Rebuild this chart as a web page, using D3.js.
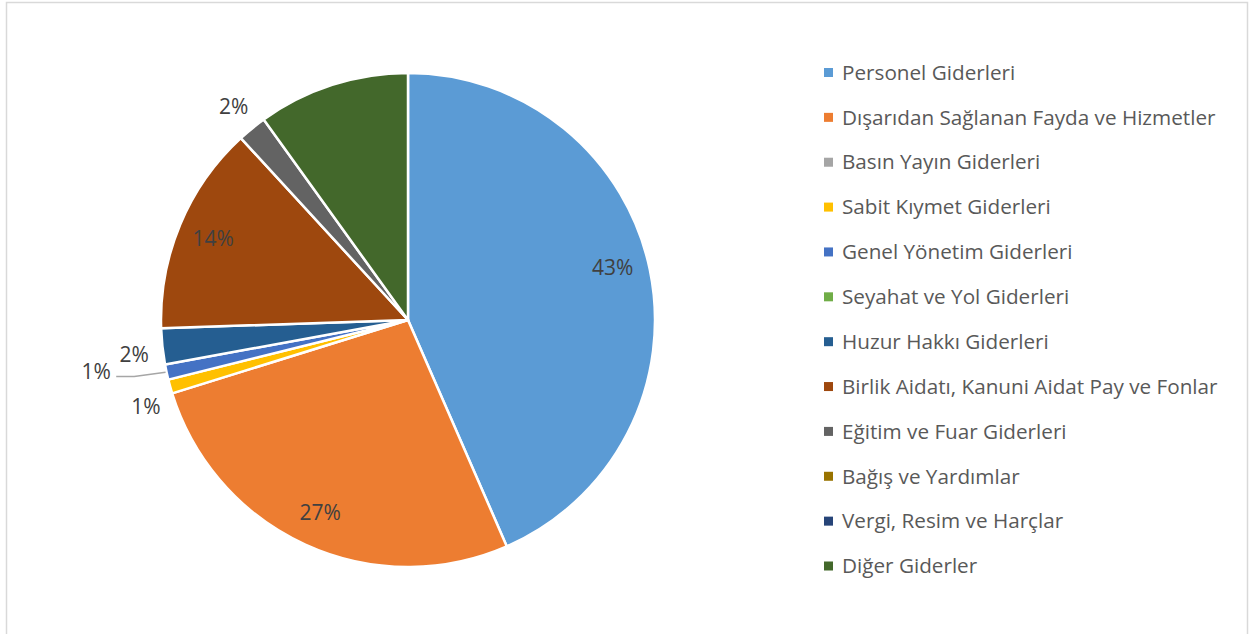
<!DOCTYPE html>
<html>
<meta charset='utf-8'>
<head>
<title>Giderler</title>
<script src='https://d3js.org/d3.v7.min.js'></script>
<style>
body { margin: 0; background: #fff; }
text { font-family: 'Open Sans', sans-serif; }
</style>
</head>
<body>
<div id='chart'></div>
<script>
var categories = ['Personel Giderleri', 'Dışarıdan Sağlanan Fayda ve Hizmetler', 'Basın Yayın Giderleri',
    'Sabit Kıymet Giderleri', 'Genel Yönetim Giderleri', 'Seyahat ve Yol Giderleri', 'Huzur Hakkı Giderleri',
    'Birlik Aidatı, Kanuni Aidat Pay ve Fonlar', 'Eğitim ve Fuar Giderleri', 'Bağış ve Yardımlar',
    'Vergi, Resim ve Harçlar', 'Diğer Giderler']
var values = [43.45, 26.75, 0, 0.92, 1.0, 0, 2.35, 13.7, 1.9, 0, 0, 9.93]
var labels = ['43%', '27%', '', '1%', '1%', '', '2%', '14%', '2%', '', '', '']
var colors = ['#5B9BD5', '#ED7D31', '#A5A5A5', '#FFC000', '#4472C4', '#70AD47', '#255E91',
    '#9E480E', '#636363', '#997300', '#264478', '#43682B']
var outsideLabels = ['Sabit Kıymet Giderleri', 'Genel Yönetim Giderleri', 'Huzur Hakkı Giderleri', 'Eğitim ve Fuar Giderleri']
var leaderLabels = ['Genel Yönetim Giderleri']

var W = 1257, H = 634
var cx = 408, cy = 320, R = 247

// small angle nudges (degrees) where labels were moved apart
var nudge = {'Sabit Kıymet Giderleri': -2.7, 'Genel Yönetim Giderleri': 2.8, 'Personel Giderleri': -2.5, 'Huzur Hakkı Giderleri': -1}

var svg = d3.select('#chart').append('svg')
    .attr('width', W).attr('height', H)

svg.append('rect')
    .attr('x', 6.5).attr('y', 2.5)
    .attr('width', 1241).attr('height', H + 10)
    .style('fill', 'none').style('stroke', '#d9d9d9').style('stroke-width', 1.5)

var data = categories.map(function(c, i) { return {name: c, value: values[i], label: labels[i], color: colors[i]} })

var pie = d3.pie().sort(null).value(function(d) { return d.value })
var arc = d3.arc().innerRadius(0).outerRadius(R)
var arcs = pie(data)

var g = svg.append('g').attr('transform', 'translate(' + cx + ',' + cy + ')')

g.selectAll('path.slice')
    .data(arcs.filter(function(a) { return a.data.value > 0 }))
    .enter().append('path')
    .attr('class', 'slice')
    .attr('d', arc)
    .style('fill', function(a) { return a.data.color })
    .style('stroke', '#fff')
    .style('stroke-width', 2.5)
    .style('stroke-linejoin', 'round')

function polar(r, ang) { return [r * Math.sin(ang), -r * Math.cos(ang)] }

arcs.filter(function(a) { return a.data.label }).forEach(function(a) {
    var mid = (a.startAngle + a.endAngle) / 2
    var shift = (nudge[a.data.name] || 0) * Math.PI / 180
    var outside = outsideLabels.indexOf(a.data.name) >= 0
    var leader = leaderLabels.indexOf(a.data.name) >= 0
    var p
    if (leader) {
        p = polar(316, mid + shift)
        var e = polar(R + 1, mid)
        g.append('path')
            .attr('d', d3.line()([[p[0] + 20, p[1] + 5], [p[0] + 38, p[1] + 5], e]))
            .style('fill', 'none').style('stroke', '#a6a6a6').style('stroke-width', 1.5)
    } else if (outside) {
        p = polar(276, mid + shift)
    } else {
        p = polar(R * 0.855, mid + shift)
    }
    g.append('text')
        .attr('x', p[0]).attr('y', p[1])
        .attr('dy', '0.36em')
        .style('text-anchor', 'middle')
        .style('font-size', '21px')
        .style('fill', '#404040')
        .text(a.data.label)
})

var legendY = d3.scalePoint().domain(categories).range([72.5, 566])

var legend = svg.selectAll('.legend')
    .data(data)
    .enter().append('g')
    .attr('class', 'legend')
    .attr('transform', function(d) { return 'translate(824,' + legendY(d.name) + ')' })

legend.append('rect')
    .attr('x', 0).attr('y', -4.5)
    .attr('width', 9).attr('height', 9)
    .style('fill', function(d) { return d.color })

legend.append('text')
    .attr('x', 18).attr('y', 0)
    .attr('dy', '0.35em')
    .style('font-size', '20.7px')
    .style('fill', '#595959')
    .text(function(d) { return d.name })
</script>
</body>
</html>
